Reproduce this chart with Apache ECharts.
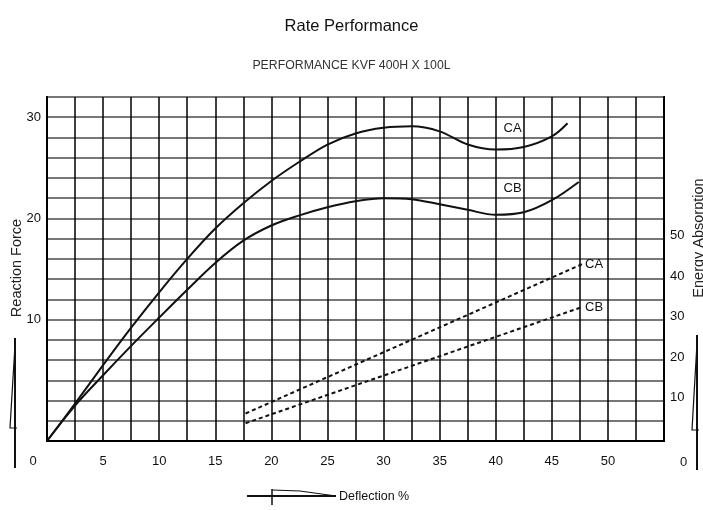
<!DOCTYPE html>
<html>
<head>
<meta charset="utf-8">
<script src="https://cdn.jsdelivr.net/npm/echarts@6/dist/echarts.min.js"></script>
<style>
html,body{margin:0;padding:0;background:#fff;}
#chart{width:703px;height:510px;}
</style>
</head>
<body>
<div id="chart"></div>
<script>
// ---- data ----
const titleText = 'Rate Performance';
const subtitleText = 'PERFORMANCE KVF 400H X 100L';
const xName = 'Deflection %';
const leftName = 'Reaction Force';
const rightName = 'Energy Absorption';

// Reaction force curves (left axis)
const caForceX = [0, 2.5, 5, 7.5, 10, 12.5, 15, 17.5, 20, 22.5, 25, 27.5, 30, 32.5, 35, 37.5, 40, 42.5, 45, 46.4];
const caForceY = [-2, 1.7, 5.5, 9.2, 12.7, 16.0, 19.0, 21.5, 23.7, 25.6, 27.3, 28.4, 28.95, 29.1, 28.6, 27.3, 26.8, 27.05, 28.1, 29.4];
const cbForceX = [0, 2.5, 5, 7.5, 10, 12.5, 15, 17.5, 20, 22.5, 25, 27.5, 30, 32.5, 35, 37.5, 40, 42.5, 45, 47.4];
const cbForceY = [-2, 1.5, 4.5, 7.4, 10.2, 12.95, 15.6, 17.8, 19.3, 20.3, 21.1, 21.7, 22.0, 21.9, 21.4, 20.85, 20.35, 20.6, 21.8, 23.6];

// Energy absorption lines (right axis)
const caEnergyX = [17.7, 47.7];
const caEnergyY = [6.8, 43.7];
const cbEnergyX = [17.7, 47.7];
const cbEnergyY = [4.4, 33.1];

// curve name labels
const seriesNames = ['CA', 'CB'];
const caLabelAt = [41.5, 28.9];
const cbLabelAt = [41.5, 23.0];

// axis ticks
const xTickLabels = [0, 5, 10, 15, 20, 25, 30, 35, 40, 45, 50];
const leftTickLabels = [10, 20, 30];
const rightTickLabels = [0, 10, 20, 30, 40, 50];

const zip = (xs, ys) => xs.map((x, i) => [x, ys[i]]);
const SANS = "'Liberation Sans', Arial, sans-serif";

const chart = echarts.init(document.getElementById('chart'), null, {renderer: 'canvas'});

const solidStyle = {color: '#111', width: 2};
const dashStyle = {color: '#111', width: 2, type: [4, 3]};
const lbl = {fontFamily: SANS, fontSize: 13, color: '#111'};

const option = {
  backgroundColor: '#fff',
  animation: false,
  title: [
    {text: titleText, left: 'center', top: 13,
     textStyle: {fontFamily: SANS, fontSize: 16.5, fontWeight: 'normal', color: '#111'}},
    {text: subtitleText, left: 'center', top: 55,
     textStyle: {fontFamily: SANS, fontSize: 12.3, fontWeight: 'normal', color: '#333'}}
  ],
  grid: {left: 47, right: 39, top: 97, bottom: 69, show: true, borderColor: '#000', borderWidth: 2, backgroundColor: 'transparent'},
  xAxis: {
    type: 'value', min: 0, max: 55, interval: 2.5,
    axisLine: {show: true, onZero: false, lineStyle: {color: '#000', width: 2}},
    axisTick: {show: false},
    splitLine: {show: true, lineStyle: {color: '#000', width: 1.5}},
    axisLabel: Object.assign({}, lbl, {
      margin: 14,
      showMaxLabel: false,
      formatter: v => {
        if (!xTickLabels.includes(v)) return '';
        return v === 0 ? '{z|0}' : String(v);
      },
      rich: {z: Object.assign({}, lbl, {padding: [0, 28, 0, 0]})}
    })
  },
  yAxis: [
    {
      type: 'value', min: -2, max: 32, interval: 2, position: 'left',
      axisLine: {show: true, onZero: false, lineStyle: {color: '#000', width: 2}},
      axisTick: {show: false},
      splitLine: {show: true, lineStyle: {color: '#777', width: 2}},
      axisLabel: Object.assign({}, lbl, {
        margin: 6,
        formatter: v => leftTickLabels.includes(v) ? String(v) : ''
      })
    },
    {
      type: 'value', min: 0, max: 85, interval: 5, position: 'right',
      axisLine: {show: true, onZero: false, lineStyle: {color: '#000', width: 2}},
      axisTick: {show: false},
      splitLine: {show: false},
      axisLabel: Object.assign({}, lbl, {
        margin: 6,
        formatter: v => {
          if (!rightTickLabels.includes(v)) return '';
          return v === 0 ? '{z|0}' : '{n|' + v + '}';
        },
        rich: {
          z: Object.assign({}, lbl, {padding: [42, 0, 0, 10]}),
          n: Object.assign({}, lbl, {padding: [0, 0, 6, 0]})
        }
      })
    }
  ],
  series: [
    {
      name: seriesNames[0] + ' force', type: 'line', yAxisIndex: 0,
      data: zip(caForceX, caForceY), smooth: 0.35, symbol: 'none',
      lineStyle: solidStyle,
      markPoint: {
        symbol: 'circle', symbolSize: 0,
        label: Object.assign({show: true, formatter: seriesNames[0], position: 'inside'}, lbl),
        data: [{coord: caLabelAt}]
      }
    },
    {
      name: seriesNames[1] + ' force', type: 'line', yAxisIndex: 0,
      data: zip(cbForceX, cbForceY), smooth: 0.35, symbol: 'none',
      lineStyle: solidStyle,
      markPoint: {
        symbol: 'circle', symbolSize: 0,
        label: Object.assign({show: true, formatter: seriesNames[1], position: 'inside'}, lbl),
        data: [{coord: cbLabelAt}]
      }
    },
    {
      name: seriesNames[0] + ' energy', type: 'line', yAxisIndex: 1,
      data: zip(caEnergyX, caEnergyY), symbol: 'none',
      lineStyle: dashStyle,
      endLabel: Object.assign({show: true, formatter: seriesNames[0], distance: 3}, lbl)
    },
    {
      name: seriesNames[1] + ' energy', type: 'line', yAxisIndex: 1,
      data: zip(cbEnergyX, cbEnergyY), symbol: 'none',
      lineStyle: dashStyle,
      endLabel: Object.assign({show: true, formatter: seriesNames[1], distance: 3}, lbl)
    }
  ],
  graphic: [
    // left axis name + arrow
    {type: 'text', x: 17, y: 268, rotation: Math.PI / 2,
     style: {text: leftName, fontFamily: SANS, fontSize: 14.5, fill: '#222', textAlign: 'center', textVerticalAlign: 'middle'}},
    {type: 'polyline', shape: {points: [[15, 338], [15, 468]]}, style: {stroke: '#111', lineWidth: 2}},
    {type: 'polyline', shape: {points: [[15, 345], [10, 428], [17, 428]]}, style: {stroke: '#111', lineWidth: 1.2, fill: null}},
    // right axis name + arrow
    {type: 'text', x: 699, y: 238, rotation: Math.PI / 2,
     style: {text: rightName, fontFamily: SANS, fontSize: 14.5, fill: '#222', textAlign: 'center', textVerticalAlign: 'middle'}},
    {type: 'polyline', shape: {points: [[697, 335], [697, 470]]}, style: {stroke: '#111', lineWidth: 2}},
    {type: 'polyline', shape: {points: [[697, 343], [692, 430], [699, 430]]}, style: {stroke: '#111', lineWidth: 1.2, fill: null}},
    // bottom axis name + arrow
    {type: 'polyline', shape: {points: [[247, 496], [336, 496]]}, style: {stroke: '#111', lineWidth: 2}},
    {type: 'polyline', shape: {points: [[272, 489], [272, 505]]}, style: {stroke: '#111', lineWidth: 1.5}},
    {type: 'polyline', shape: {points: [[272, 490], [300, 491], [336, 496]]}, style: {stroke: '#111', lineWidth: 1.2, fill: null}},
    {type: 'text', x: 339, y: 497,
     style: {text: xName, fontFamily: SANS, fontSize: 12.5, fill: '#111', textAlign: 'left', textVerticalAlign: 'middle'}}
  ]
};
chart.setOption(option);
</script>
</body>
</html>
